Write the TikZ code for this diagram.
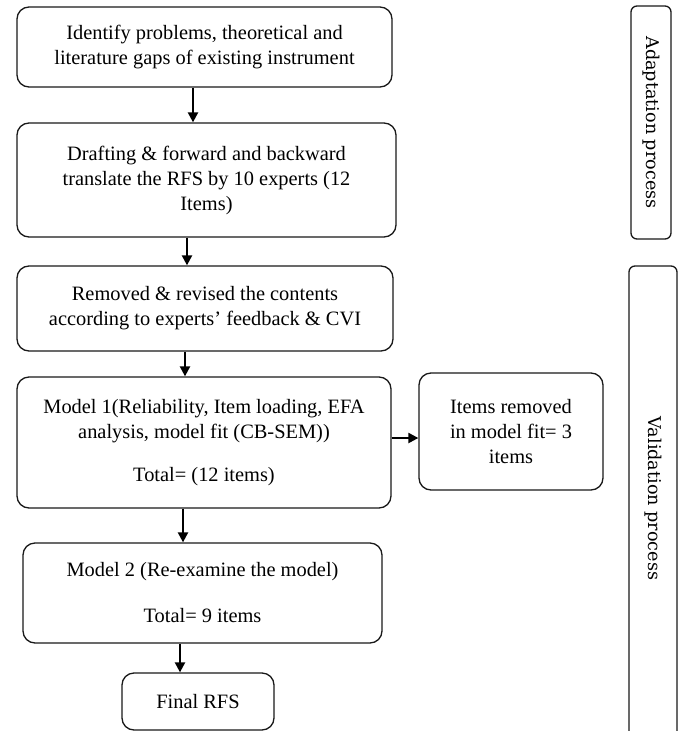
\documentclass[tikz,border=0pt]{standalone}
\usepackage{fontspec}
\setmainfont{Liberation Serif}
\newfontfamily\labfont{DejaVu Serif}
\usetikzlibrary{arrows.meta}
\begin{document}
\begin{tikzpicture}[x=1pt,y=-1pt,
  box/.style={draw=black!90, line width=1.3pt, rounded corners=12pt, align=center,
    inner sep=0pt, font=\fontsize{20.4}{25}\selectfont},
  sidebox/.style={draw=black!90, line width=1.3pt, rounded corners=6pt},
  sidetext/.style={font=\labfont\fontsize{17.6}{20}\selectfont, rotate=-90, inner sep=0pt},
  arr/.style={line width=2.2pt, -{Triangle[length=10pt,width=10pt]}}]
\useasboundingbox (0,0) rectangle (684,731);
% main boxes
\node[box, minimum width=375pt, minimum height=80pt] (b1) at (204.5,47)
  {Identify problems, theoretical and\\literature gaps of existing instrument};
\node[box, minimum width=379pt, minimum height=114pt] (b2) at (206.5,180)
  {Drafting \& forward and backward\\translate the RFS by 10 experts (12\\Items)};
\node[box, minimum width=376pt, minimum height=85pt] (b3) at (205,308.5)
  {Removed \& revised the contents\\according to experts’ feedback \& CVI};
\node[box, minimum width=374pt, minimum height=131pt] (b4) at (204,442.5)
  {Model 1(Reliability, Item loading, EFA\\analysis, model fit (CB-SEM))\\[18pt]Total= (12 items)};
\node[box, minimum width=184pt, minimum height=117pt] (items) at (511,431.5)
  {Items removed\\in model fit= 3\\items};
\node[box, minimum width=359pt, minimum height=100pt] (b5) at (202.5,593)
  {Model 2 (Re-examine the model)\\[21pt]Total= 9 items};
\node[box, minimum width=152pt, minimum height=57pt] (fin) at (198,701.5)
  {Final RFS};
% side boxes
\node[sidebox, sidetext, minimum width=233pt, minimum height=40pt] (adapt) at (651,122.5)
  {Adaptation process};
\coordinate (vbl) at (629,745);
\coordinate (vbr) at (677,745);
\draw[sidebox] (vbl) -- (629,266) -- (677,266) -- (vbr);
\node[sidetext] (valid) at (653,498.5) {Validation process};
% arrows
\draw[arr] ([xshift=-11.5pt]b1.south) -- ([xshift=-13.5pt]b2.north);
\draw[arr] ([xshift=-19.5pt]b2.south) -- ([xshift=-18pt]b3.north);
\draw[arr] ([xshift=-20pt]b3.south) -- ([xshift=-19pt]b4.north);
\draw[arr] ([xshift=-21pt]b4.south) -- ([xshift=-19.5pt]b5.north);
\draw[arr] ([xshift=-22.5pt]b5.south) -- ([xshift=-18pt]fin.north);
\draw[arr] ([yshift=4.5pt]b4.east) -- ([yshift=4.5pt]b4.east -| items.west);
\end{tikzpicture}
\end{document}
